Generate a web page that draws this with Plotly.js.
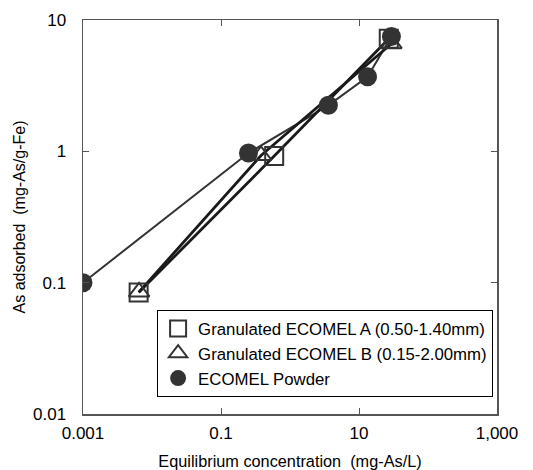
<!DOCTYPE html>
<html><head><meta charset="utf-8">
<script src="https://cdn.plot.ly/plotly-3.0.1.min.js"></script>
<style>body{margin:0;background:#fff}#c{width:533px;height:470px}</style>
</head><body><div id="c"></div>
<script>
// Series A: Granulated ECOMEL A (0.50-1.40mm)
const aX = [0.0064, 0.59, 27];
const aY = [0.084, 0.92, 7.2];
// Series B: Granulated ECOMEL B (0.15-2.00mm)
const bX = [0.0065, 0.38, 29.5];
const bY = [0.085, 0.93, 6.6];
// Series C: ECOMEL Powder
const cX = [0.001, 0.25, 3.6, 13.3, 29.5];
const cY = [0.1, 0.97, 2.24, 3.7, 7.5];
const names = ['Granulated ECOMEL A (0.50-1.40mm)', 'Granulated ECOMEL B (0.15-2.00mm)', 'ECOMEL Powder'];
const xTicks = [0.001, 0.1, 10, 1000];
const xTickText = ['0.001', '0.1', '10', '1,000'];
const yTicks = [0.01, 0.1, 1, 10];
const yTickText = ['0.01', '0.1', '1', '10'];

const dark = '#333';
const traces = [
  {x: cX, y: cY, mode: 'lines', line: {color: dark, width: 2}, showlegend: false, hoverinfo: 'skip'},
  {x: aX, y: aY, mode: 'lines', line: {color: '#1a1a1a', width: 2.8}, showlegend: false, hoverinfo: 'skip'},
  {x: bX, y: bY, mode: 'lines', line: {color: '#1a1a1a', width: 2.8}, showlegend: false, hoverinfo: 'skip'},
  {x: aX, y: aY, mode: 'markers', name: names[0], marker: {symbol: 'square-open', size: 18, color: dark, line: {width: 2, color: dark}}},
  {x: bX, y: bY, mode: 'markers', name: names[1], marker: {symbol: 'triangle-up-open', size: 18, color: dark, line: {width: 2, color: dark}}},
  {x: cX, y: cY, mode: 'markers', name: names[2], marker: {symbol: 'circle', size: 19, color: dark}}
];
const font = {family: 'Liberation Sans, Arial, sans-serif', color: '#000'};
const layout = {
  width: 533, height: 470,
  margin: {l: 83, r: 36, t: 20, b: 56},
  paper_bgcolor: '#fff', plot_bgcolor: '#fff',
  font: Object.assign({size: 16}, font),
  xaxis: {
    type: 'log', range: [-3, 3], tickvals: xTicks, ticktext: xTickText,
    ticks: 'inside', ticklen: 6, tickcolor: '#555', showline: true, linecolor: '#555', linewidth: 1.5,
    mirror: 'ticks', showgrid: false, zeroline: false, ticklabelstandoff: 3,
    tickfont: Object.assign({size: 17}, font),
    title: {text: 'Equilibrium concentration  (mg-As/L)', font: Object.assign({size: 16.3}, font), standoff: 14}
  },
  yaxis: {
    type: 'log', range: [-2, 1], tickvals: yTicks, ticktext: yTickText,
    ticks: 'inside', ticklen: 6, tickcolor: '#555', showline: true, linecolor: '#555', linewidth: 1.5,
    mirror: 'ticks', showgrid: false, zeroline: false, ticklabelstandoff: 12,
    tickfont: Object.assign({size: 17}, font),
    title: {text: 'As adsorbed  (mg-As/g-Fe)', font: Object.assign({size: 16}, font), standoff: 3}
  },
  legend: {
    x: 0.179, y: 0.264, xanchor: 'left', yanchor: 'top',
    bgcolor: '#fff', bordercolor: '#000', borderwidth: 1,
    font: Object.assign({size: 16.8}, font), itemwidth: 30, tracegroupgap: 0
  },
  showlegend: true
};
Plotly.newPlot('c', traces, layout, {staticPlot: true});
</script></body></html>
